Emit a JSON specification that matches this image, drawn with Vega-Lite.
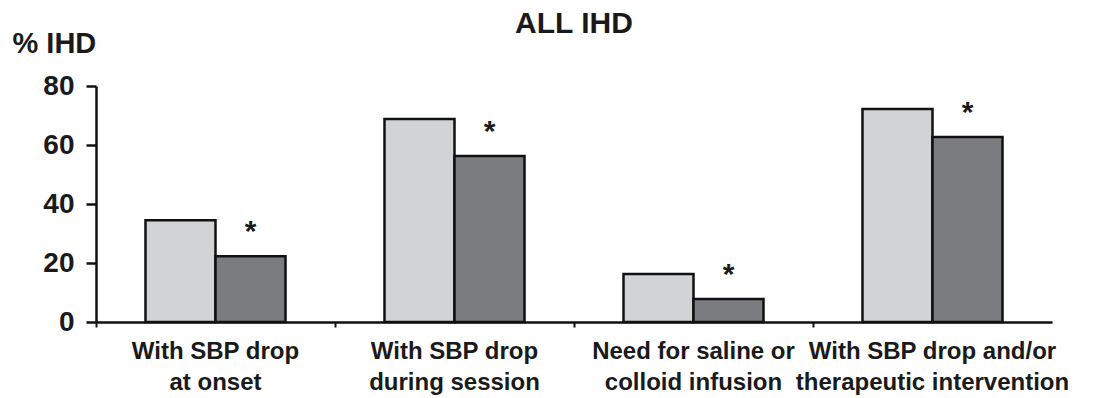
{
  "$schema": "https://vega.github.io/schema/vega-lite/v6.json",
  "autosize": {"type": "none"},
  "padding": {"left": 96, "top": 86, "right": 41, "bottom": 76},
  "width": 956,
  "height": 236,
  "background": "white",
  "title": {
    "text": "ALL IHD",
    "anchor": "middle",
    "frame": "group",
    "font": "Liberation Sans",
    "fontSize": 30,
    "fontWeight": "bold",
    "color": "#1a1a1a",
    "baseline": "alphabetic",
    "offset": -34
  },
  "config": {
    "view": {"stroke": null},
    "font": "Liberation Sans"
  },
  "data": {
    "values": [
      {"cat": "With SBP drop|at onset", "series": "A", "value": 34.5},
      {"cat": "With SBP drop|at onset", "series": "B", "value": 22.3},
      {"cat": "With SBP drop|during session", "series": "A", "value": 68.8},
      {"cat": "With SBP drop|during session", "series": "B", "value": 56.3},
      {"cat": "Need for saline or|colloid infusion", "series": "A", "value": 16.3},
      {"cat": "Need for saline or|colloid infusion", "series": "B", "value": 7.8},
      {"cat": "With SBP drop and/or|therapeutic intervention", "series": "A", "value": 72.2},
      {"cat": "With SBP drop and/or|therapeutic intervention", "series": "B", "value": 62.7}
    ]
  },
  "encoding": {
    "x": {
      "field": "cat",
      "type": "nominal",
      "sort": null,
      "scale": {"paddingInner": 0, "paddingOuter": 0},
      "axis": {
        "title": null,
        "labelAngle": 0,
        "labelExpr": "split(datum.label, '|')",
        "labelFont": "Liberation Sans",
        "labelFontSize": 24,
        "labelFontWeight": "bold",
        "labelColor": "#1a1a1a",
        "labelLineHeight": 31,
        "labelPadding": 12,
        "labelLimit": 0,
        "labelBaseline": "top",
        "domainColor": "#111",
        "domainWidth": 2.5,
        "tickColor": "#111",
        "tickWidth": 2,
        "tickSize": 5,
        "bandPosition": 0,
        "grid": false
      }
    },
    "xOffset": {
      "field": "series",
      "type": "nominal",
      "scale": {"paddingInner": 0, "paddingOuter": 0.707}
    },
    "y": {
      "field": "value",
      "type": "quantitative",
      "scale": {"domain": [0, 80], "nice": false},
      "axis": {
        "values": [0, 20, 40, 60, 80],
        "title": "% IHD",
        "titleAngle": 0,
        "titleAlign": "left",
        "titleBaseline": "alphabetic",
        "titleX": -84,
        "titleY": -34,
        "titleFont": "Liberation Sans",
        "titleFontSize": 29,
        "titleFontWeight": "bold",
        "titleColor": "#1a1a1a",
        "labelFont": "Liberation Sans",
        "labelFontSize": 28,
        "labelFontWeight": "bold",
        "labelColor": "#1a1a1a",
        "labelPadding": 12,
        "domainColor": "#111",
        "domainWidth": 2.5,
        "tickColor": "#111",
        "tickWidth": 2.5,
        "tickSize": 10,
        "grid": false
      }
    }
  },
  "layer": [
    {
      "mark": {"type": "bar", "stroke": "#111", "strokeWidth": 2.5},
      "encoding": {
        "color": {
          "field": "series",
          "type": "nominal",
          "scale": {"domain": ["A", "B"], "range": ["#d2d3d5", "#7b7c7f"]},
          "legend": null
        }
      }
    },
    {
      "transform": [{"filter": "datum.series == 'B'"}],
      "mark": {
        "type": "text",
        "text": "*",
        "font": "Liberation Sans",
        "fontSize": 30,
        "fontWeight": "bold",
        "color": "#1a1a1a",
        "baseline": "alphabetic",
        "align": "center",
        "dy": -15
      }
    }
  ]
}
